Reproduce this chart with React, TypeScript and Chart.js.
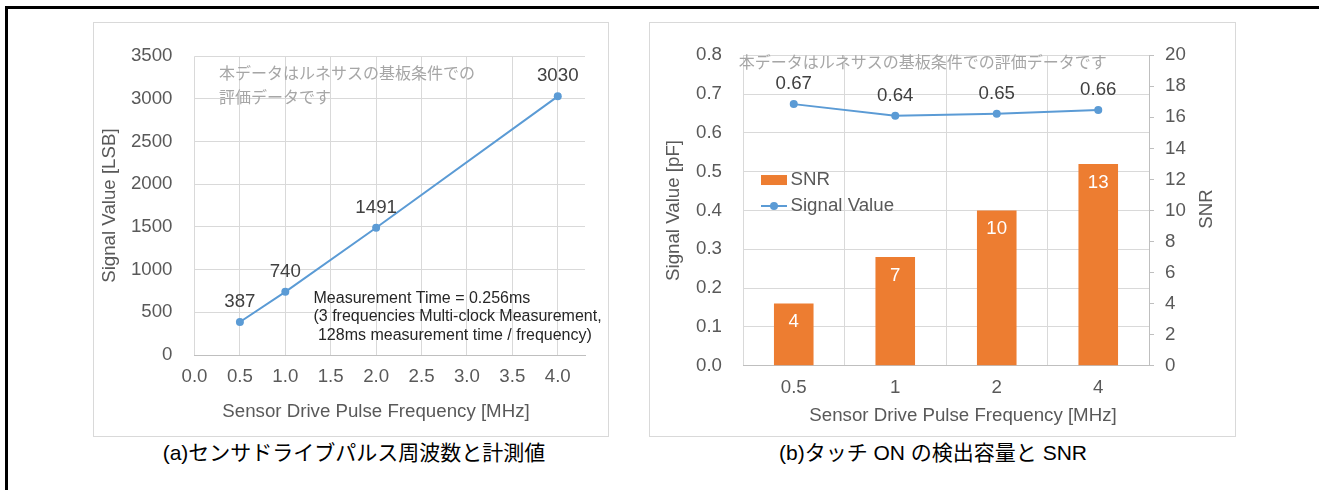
import React, { useEffect, useRef } from 'react';
import { Chart, registerables } from 'chart.js';

Chart.register(...registerables);

const FONT = "'Liberation Sans', Arial, 'Noto Sans CJK JP', sans-serif";
const JP_FONT = "'Noto Sans CJK JP', 'Liberation Sans', sans-serif";

// ---- Chart (a) data ----
const freqA = [0.5, 1.0, 2.0, 4.0];
const signalA = [387, 740, 1491, 3030];
const xTicksA = [0, 0.5, 1.0, 1.5, 2.0, 2.5, 3.0, 3.5, 4.0];
const yTicksA = [0, 500, 1000, 1500, 2000, 2500, 3000, 3500];

// ---- Chart (b) data ----
const freqB = ['0.5', '1', '2', '4'];
const snrB = [4, 7, 10, 13];
const signalB = [0.674, 0.644, 0.649, 0.659];
const yTicksB = [0, 0.1, 0.2, 0.3, 0.4, 0.5, 0.6, 0.7, 0.8];
const y1TicksB = [0, 2, 4, 6, 8, 10, 12, 14, 16, 18, 20];

// ---- Texts ----
const captionA = '(a)センサドライブパルス周波数と計測値';
const captionB = '(b)タッチ ON の検出容量と SNR';
const noteA = ['本データはルネサスの基板条件での', '評価データです'];
const noteB = ['本データはルネサスの基板条件での評価データです'];
const measureNote = [
  'Measurement Time = 0.256ms',
  '(3 frequencies Multi-clock Measurement,',
  ' 128ms measurement time / frequency)',
];
const xTitle = 'Sensor Drive Pulse Frequency [MHz]';
const yTitleA = 'Signal Value [LSB]';
const yTitleB = 'Signal Value [pF]';
const y1TitleB = 'SNR';

const BLUE = '#5b9bd5';
const ORANGE = '#ed7d31';
const GRID = '#d9d9d9';
const AXIS = '#bfbfbf';
const TICK = '#595959';
const FS = 18.7;

const valueLabels = {
  id: 'valueLabels',
  afterDatasetsDraw(chart: any) {
    const ctx = chart.ctx;
    chart.data.datasets.forEach((ds: any, i: number) => {
      const cfg = ds.valueLabel;
      if (!cfg) return;
      const meta = chart.getDatasetMeta(i);
      meta.data.forEach((el: any, j: number) => {
        const raw = ds.data[j];
        const v = typeof raw === 'object' ? raw.y : raw;
        ctx.save();
        ctx.font = `${FS}px ${FONT}`;
        ctx.fillStyle = cfg.color;
        ctx.textAlign = 'center';
        ctx.textBaseline = 'middle';
        ctx.fillText(cfg.format(v), el.x, el.y + cfg.dy);
        ctx.restore();
      });
    });
  },
};

// free texts: notes inside the plot and axis titles placed like the original
const notes = {
  id: 'notes',
  afterDraw(chart: any, _args: any, opts: any) {
    const items = (opts && opts.items) || [];
    const ctx = chart.ctx;
    const area = chart.chartArea;
    items.forEach((it: any) => {
      const ox = it.origin === 'canvas' ? 0 : area.left;
      const oy = it.origin === 'canvas' ? 0 : area.top;
      ctx.save();
      ctx.font = it.font;
      ctx.fillStyle = it.color;
      ctx.textAlign = it.align || 'left';
      ctx.textBaseline = 'middle';
      ctx.translate(ox + it.x, oy + it.y);
      if (it.rotate) ctx.rotate(it.rotate);
      it.lines.forEach((line: string, k: number) => {
        ctx.fillText(line, 0, k * (it.lineHeight || 0));
      });
      ctx.restore();
    });
  },
};

const insideLegend = {
  id: 'insideLegend',
  afterDraw(chart: any, _args: any, opts: any) {
    if (!opts || !opts.display) return;
    const ctx = chart.ctx;
    const area = chart.chartArea;
    const x0 = area.left + opts.x;
    let y = area.top + opts.y;
    opts.order.forEach((idx: number) => {
      const ds = chart.data.datasets[idx];
      ctx.save();
      if (ds.type === 'bar') {
        ctx.fillStyle = ds.backgroundColor;
        ctx.fillRect(x0, y - 5, 26, 10);
      } else {
        ctx.strokeStyle = ds.borderColor;
        ctx.lineWidth = 2;
        ctx.beginPath();
        ctx.moveTo(x0, y);
        ctx.lineTo(x0 + 26, y);
        ctx.stroke();
        ctx.fillStyle = ds.borderColor;
        ctx.beginPath();
        ctx.arc(x0 + 13, y, 4, 0, Math.PI * 2);
        ctx.fill();
      }
      ctx.font = `${FS}px ${FONT}`;
      ctx.fillStyle = TICK;
      ctx.textAlign = 'left';
      ctx.textBaseline = 'middle';
      ctx.fillText(ds.label, x0 + 29.5, y);
      ctx.restore();
      y += opts.gap;
    });
  },
};

const tickFont = { family: FONT, size: FS };

function makeChartA(canvas: HTMLCanvasElement) {
  return new Chart(canvas, {
    type: 'scatter',
    data: {
      datasets: [
        {
          label: 'Signal Value',
          data: freqA.map((x, i) => ({ x, y: signalA[i] })),
          showLine: true,
          borderColor: BLUE,
          backgroundColor: BLUE,
          borderWidth: 2,
          pointRadius: 4,
          pointBorderWidth: 0,
          pointBackgroundColor: BLUE,
          tension: 0,
          valueLabel: { color: '#404040', dy: -20, format: (v: number) => String(v) },
        } as any,
      ],
    },
    options: {
      animation: false,
      responsive: false,
      layout: { padding: { left: 0, right: 23, top: 31, bottom: 0 } },
      plugins: {
        legend: { display: false },
        tooltip: { enabled: false },
        notes: {
          items: [
            { lines: noteA, x: 24.5, y: 17, lineHeight: 24, font: `16px ${JP_FONT}`, color: '#a6a6a6' },
            { lines: measureNote, x: 119, y: 242, lineHeight: 18.5, font: `16px ${FONT}`, color: '#262626' },
            { lines: [xTitle], origin: 'canvas', x: 282, y: 389, align: 'center', font: `${FS}px ${FONT}`, color: TICK },
          ],
        },
      } as any,
      scales: {
        x: {
          type: 'linear',
          min: 0,
          max: 4.3,
          afterBuildTicks: (s: any) => {
            s.ticks = xTicksA.map((v) => ({ value: v }));
          },
          afterFit: (s: any) => {
            s.height = 81;
          },
          ticks: {
            font: tickFont,
            color: TICK,
            padding: 11,
            callback: (v: any) => Number(v).toFixed(1),
          },
          grid: { color: GRID, drawTicks: false },
          border: { color: AXIS },
        },
        y: {
          min: 0,
          max: 3500,
          afterBuildTicks: (s: any) => {
            s.ticks = yTicksA.map((v) => ({ value: v }));
          },
          afterFit: (s: any) => {
            s.width = 100.5;
          },
          ticks: { font: tickFont, color: TICK, padding: 22, callback: (v: any) => String(v) },
          grid: { color: GRID, drawTicks: false },
          border: { display: false },
          title: { display: true, text: yTitleA, font: tickFont, color: TICK, padding: { top: 5, bottom: 0 } },
        },
      },
    } as any,
    plugins: [valueLabels, notes],
  });
}

function makeChartB(canvas: HTMLCanvasElement) {
  return new Chart(canvas, {
    type: 'bar',
    data: {
      labels: freqB,
      datasets: [
        {
          type: 'bar',
          label: 'SNR',
          data: snrB,
          yAxisID: 'y1',
          backgroundColor: ORANGE,
          barPercentage: 0.39,
          categoryPercentage: 1,
          order: 2,
          valueLabel: { color: '#ffffff', dy: 18.5, format: (v: number) => String(v) },
        } as any,
        {
          type: 'line',
          label: 'Signal Value',
          data: signalB,
          yAxisID: 'y',
          borderColor: BLUE,
          backgroundColor: BLUE,
          borderWidth: 2,
          pointRadius: 4,
          pointBorderWidth: 0,
          pointBackgroundColor: BLUE,
          tension: 0,
          order: 1,
          valueLabel: { color: '#404040', dy: -20, format: (v: number) => v.toFixed(2) },
        } as any,
      ],
    },
    options: {
      animation: false,
      responsive: false,
      layout: { padding: { left: 0, right: 0, top: 30.5, bottom: 0 } },
      plugins: {
        legend: { display: false },
        tooltip: { enabled: false },
        notes: {
          items: [
            { lines: noteB, x: -4.3, y: 6.5, lineHeight: 24, font: `16px ${JP_FONT}`, color: '#a6a6a6' },
            { lines: [xTitle], origin: 'canvas', x: 313, y: 393, align: 'center', font: `${FS}px ${FONT}`, color: TICK },
            {
              lines: [y1TitleB],
              origin: 'canvas',
              x: 557,
              y: 186,
              align: 'center',
              rotate: -Math.PI / 2,
              font: `${FS}px ${FONT}`,
              color: TICK,
            },
          ],
        },
        insideLegend: { display: true, x: 18, y: 124.8, gap: 26, order: [0, 1] },
      } as any,
      scales: {
        x: {
          type: 'category',
          offset: true,
          afterFit: (s: any) => {
            s.height = 70.3;
          },
          ticks: { font: tickFont, color: TICK, padding: 11 },
          grid: { color: GRID, drawTicks: false, offset: true },
          border: { color: AXIS },
        },
        y: {
          position: 'left',
          min: 0,
          max: 0.8,
          afterBuildTicks: (s: any) => {
            s.ticks = yTicksB.map((v) => ({ value: v }));
          },
          afterFit: (s: any) => {
            s.width = 93;
          },
          ticks: { font: tickFont, color: TICK, padding: 21, callback: (v: any) => Number(v).toFixed(1) },
          grid: { color: GRID, drawTicks: false },
          border: { display: false },
          title: { display: true, text: yTitleB, font: tickFont, color: TICK, padding: { top: 12.4, bottom: 0 } },
        },
        y1: {
          position: 'right',
          min: 0,
          max: 20,
          afterBuildTicks: (s: any) => {
            s.ticks = y1TicksB.map((v) => ({ value: v }));
          },
          afterFit: (s: any) => {
            s.width = 86;
          },
          ticks: { font: tickFont, color: TICK, padding: 11, callback: (v: any) => String(v) },
          grid: { drawOnChartArea: false, drawTicks: true, tickLength: 5, color: AXIS, tickColor: AXIS },
          border: { display: true, color: AXIS },
        },
      },
    } as any,
    plugins: [valueLabels, notes, insideLegend],
  });
}

export default function App() {
  const refA = useRef<HTMLCanvasElement | null>(null);
  const refB = useRef<HTMLCanvasElement | null>(null);

  useEffect(() => {
    const a = refA.current ? makeChartA(refA.current) : null;
    const b = refB.current ? makeChartB(refB.current) : null;
    return () => {
      if (a) a.destroy();
      if (b) b.destroy();
    };
  }, []);

  const captionStyle: React.CSSProperties = {
    position: 'absolute',
    top: 441,
    width: 600,
    height: 24,
    lineHeight: '24px',
    fontSize: 21,
    fontFamily: FONT,
    color: '#000',
    textAlign: 'center',
    whiteSpace: 'nowrap',
  };

  return (
    <div style={{ position: 'absolute', left: 0, top: 0, width: 1319, height: 490, overflow: 'hidden', background: '#fff' }}>
      <div
        style={{
          position: 'absolute',
          left: 5,
          top: 6,
          width: 1400,
          height: 600,
          borderTop: '3px solid #000',
          borderLeft: '3px solid #000',
        }}
      />
      <div style={{ position: 'absolute', left: 93, top: 22, width: 514, height: 413, border: `1px solid ${GRID}` }}>
        <canvas ref={refA} width={514} height={413} style={{ display: 'block' }} />
      </div>
      <div style={{ position: 'absolute', left: 649, top: 22, width: 585, height: 413, border: `1px solid ${GRID}` }}>
        <canvas ref={refB} width={585} height={413} style={{ display: 'block' }} />
      </div>
      <div style={{ ...captionStyle, left: 354 - 300 }}>{captionA}</div>
      <div style={{ ...captionStyle, left: 933 - 300 }}>{captionB}</div>
    </div>
  );
}
